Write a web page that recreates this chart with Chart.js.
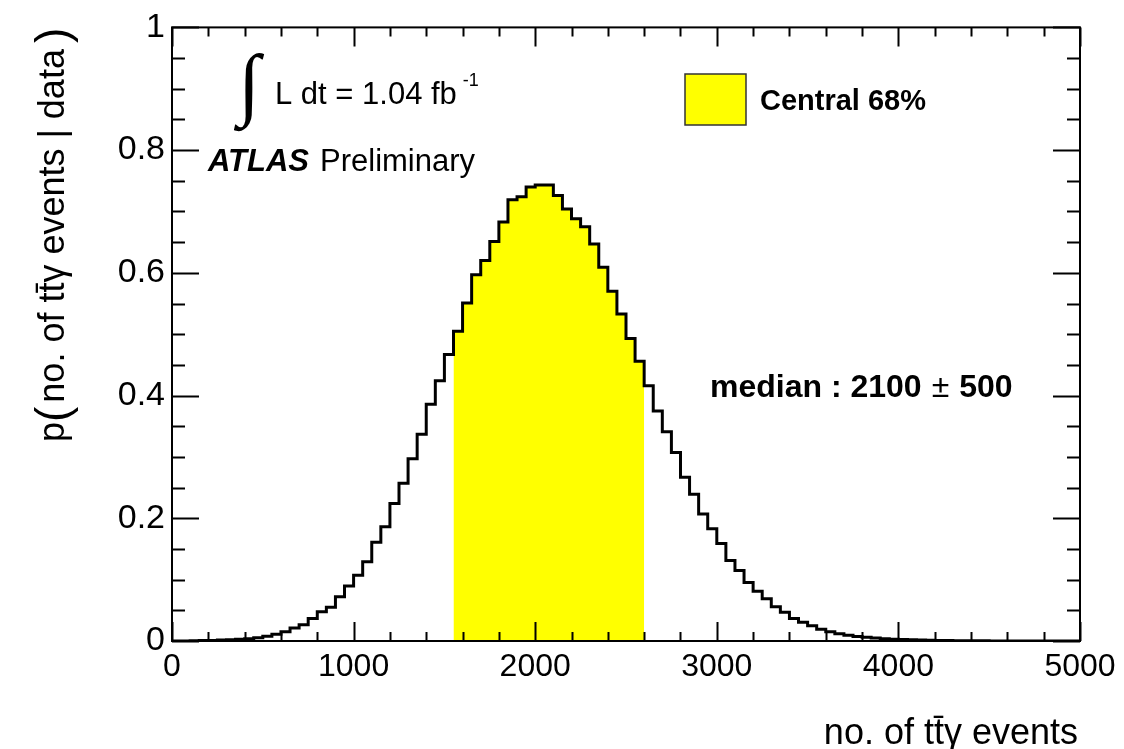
<!DOCTYPE html>
<html>
<head>
<meta charset="utf-8">
<script src="https://cdn.jsdelivr.net/npm/chart.js@4.4.0/dist/chart.umd.min.js"></script>
<style>
  html, body { margin: 0; padding: 0; background: #fff; }
  #grafico { display: block; }
</style>
</head>
<body>
<canvas id="grafico" width="1124" height="749"></canvas>
<script>
const FONTE = "'Liberation Sans', Arial, Helvetica, sans-serif";

// histogram: 100 bins of 50 events, from 0 to 5000
const binWidth = 50;
const density = [
  0.0001, 0.0002, 0.0004, 0.0007, 0.0010, 0.0015, 0.0020, 0.0028, 0.0038, 0.0054,
  0.0076, 0.0110, 0.0150, 0.0210, 0.0265, 0.0365, 0.0475, 0.0550, 0.0720, 0.0895,
  0.1070, 0.1290, 0.1610, 0.1860, 0.2240, 0.2570, 0.2970, 0.3370, 0.3860, 0.4240,
  0.4670, 0.5050, 0.5510, 0.5970, 0.6200, 0.6510, 0.6830, 0.7190, 0.7240, 0.7400,
  0.7430, 0.7430, 0.7260, 0.7040, 0.6880, 0.6750, 0.6470, 0.6090, 0.5700, 0.5330,
  0.4930, 0.4560, 0.4160, 0.3750, 0.3410, 0.3070, 0.2670, 0.2390, 0.2070, 0.1830,
  0.1590, 0.1310, 0.1150, 0.0955, 0.0810, 0.0690, 0.0560, 0.0470, 0.0365, 0.0305,
  0.0250, 0.0190, 0.0150, 0.0120, 0.0095, 0.0075, 0.0060, 0.0048, 0.0038, 0.0030,
  0.0024, 0.0019, 0.0015, 0.0012, 0.0009, 0.0007, 0.0005, 0.0004, 0.0003, 0.0003,
  0.0002, 0.0002, 0.0001, 0.0001, 0.0001, 0, 0, 0, 0, 0
];

// central 68% interval
const centralFrom = 1550;
const centralTo = 2600;

const xMin = 0, xMax = 5000;
const xMajor = [0, 1000, 2000, 3000, 4000, 5000];
const xMinorStep = 200;
const yMajor = [0, 0.2, 0.4, 0.6, 0.8, 1];
const yMinorStep = 0.05;

const xTitle = "no. of tt\u0304\u03b3 events";
const yTitle = "no. of tt\u0304\u03b3 events | data";
const lumiText = "L dt = 1.04 fb";
const legendText = "Central 68%";
const medianText = "median : 2100";
const medianErr = "500";

function montarPontos(de, ate) {
  const pontos = [];
  density.forEach((v, i) => {
    const x = xMin + i * binWidth;
    if (x >= de && x < ate) pontos.push({ x: x, y: v });
  });
  // closing point so the last step reaches its right edge
  const ultimo = pontos[pontos.length - 1];
  pontos.push({ x: ultimo.x + binWidth, y: ultimo.y });
  return pontos;
}

const molduraRoot = {
  id: "molduraRoot",
  afterDraw(chart) {
    const ctx = chart.ctx;
    const a = chart.chartArea;
    const xs = chart.scales.x;
    const ys = chart.scales.y;

    ctx.save();
    ctx.strokeStyle = "#000";
    ctx.lineWidth = 2;
    ctx.strokeRect(a.left, a.top, a.right - a.left, a.bottom - a.top);

    // ticks on the four sides, pointing inwards
    ctx.beginPath();
    for (let v = xMin; v <= xMax + 1e-6; v += xMinorStep) {
      const px = Math.round(xs.getPixelForValue(v)) + 0.5;
      const len = xMajor.includes(v) ? 19 : 9;
      ctx.moveTo(px, a.bottom); ctx.lineTo(px, a.bottom - len);
      ctx.moveTo(px, a.top); ctx.lineTo(px, a.top + len);
    }
    for (let i = 0; i * yMinorStep <= 1 + 1e-6; i++) {
      const v = i * yMinorStep;
      const py = Math.round(ys.getPixelForValue(v)) + 0.5;
      const len = (i % 4 === 0) ? 27 : 13;
      ctx.moveTo(a.left, py); ctx.lineTo(a.left + len, py);
      ctx.moveTo(a.right, py); ctx.lineTo(a.right - len, py);
    }
    ctx.lineWidth = 2;
    ctx.stroke();

    ctx.fillStyle = "#000";

    // x title
    ctx.font = "36px " + FONTE;
    ctx.textAlign = "right";
    ctx.textBaseline = "alphabetic";
    ctx.fillText(xTitle, a.right - 2, 744);

    // y title, rotated
    ctx.save();
    ctx.translate(64, 442);
    ctx.rotate(-Math.PI / 2);
    ctx.textAlign = "left";
    let pos = 0;
    ctx.font = "36px " + FONTE;
    ctx.fillText("p", pos, 0); pos += ctx.measureText("p").width;
    ctx.font = "300 46px " + FONTE;
    ctx.fillText("(", pos, 4); pos += ctx.measureText("(").width + 4;
    ctx.font = "36px " + FONTE;
    ctx.fillText(yTitle, pos, 0); pos += ctx.measureText(yTitle).width + 6;
    ctx.font = "300 46px " + FONTE;
    ctx.fillText(")", pos, 4);
    ctx.restore();

    // luminosity
    ctx.textAlign = "left";
    ctx.font = "200 80px 'DejaVu Sans'";
    ctx.fillText("\u222b", 238, 110);
    ctx.font = "31px " + FONTE;
    ctx.fillText(lumiText, 275, 104);
    const wl = ctx.measureText(lumiText).width;
    ctx.font = "18px " + FONTE;
    ctx.fillText("-1", 275 + wl + 6, 86);

    // ATLAS Preliminary
    ctx.font = "italic bold 31px " + FONTE;
    ctx.fillText("ATLAS", 208, 171);
    const wa = ctx.measureText("ATLAS").width;
    ctx.font = "31px " + FONTE;
    ctx.fillText("Preliminary", 208 + wa + 11, 171);

    // legend
    ctx.fillStyle = "#ffff00";
    ctx.fillRect(685, 74, 61, 51);
    ctx.strokeStyle = "#333";
    ctx.lineWidth = 1.5;
    ctx.strokeRect(685, 74, 61, 51);
    ctx.fillStyle = "#000";
    ctx.font = "bold 29px " + FONTE;
    ctx.textBaseline = "middle";
    ctx.fillText(legendText, 760, 102);

    // median, with a wider gap around the plus-minus sign
    ctx.font = "bold 32px " + FONTE;
    ctx.fillText(medianText, 710, 388);
    let mx = 710 + ctx.measureText(medianText).width + 10;
    ctx.font = "32px " + FONTE;
    ctx.fillText("\u00b1", mx, 388);
    mx += ctx.measureText("\u00b1").width + 10;
    ctx.font = "bold 32px " + FONTE;
    ctx.fillText(medianErr, mx, 388);
    ctx.restore();
  }
};

const ctx = document.getElementById("grafico").getContext("2d");
new Chart(ctx, {
  type: "line",
  data: {
    datasets: [
      {
        label: "posterior",
        data: montarPontos(xMin, xMax),
        stepped: "before",
        borderColor: "#000",
        borderWidth: 3,
        pointRadius: 0,
        fill: false,
        order: 0
      },
      {
        label: legendText,
        data: montarPontos(centralFrom, centralTo),
        stepped: "before",
        borderWidth: 0,
        borderColor: "rgba(0,0,0,0)",
        backgroundColor: "#ffff00",
        pointRadius: 0,
        fill: "origin",
        order: 1
      }
    ]
  },
  options: {
    responsive: false,
    animation: false,
    layout: { padding: { top: 25, right: 44, bottom: 0, left: 0 } },
    plugins: {
      legend: { display: false },
      tooltip: { enabled: false }
    },
    scales: {
      x: {
        type: "linear",
        min: xMin,
        max: xMax,
        grid: { display: false, drawTicks: false },
        border: { display: false },
        afterFit: s => { s.height = 108; },
        afterBuildTicks: s => { s.ticks = xMajor.map(v => ({ value: v })); },
        ticks: {
          color: "#000",
          padding: 7,
          font: { family: FONTE, size: 32 },
          maxRotation: 0,
          callback: v => String(v)
        }
      },
      y: {
        min: 0,
        max: 1,
        grid: { display: false, drawTicks: false },
        border: { display: false },
        afterFit: s => { s.width = 172; },
        afterBuildTicks: s => { s.ticks = yMajor.map(v => ({ value: v })); },
        ticks: {
          color: "#000",
          padding: 7,
          font: { family: FONTE, size: 34 },
          callback: v => String(+(+v).toFixed(1))
        }
      }
    }
  },
  plugins: [molduraRoot]
});
</script>
</body>
</html>
